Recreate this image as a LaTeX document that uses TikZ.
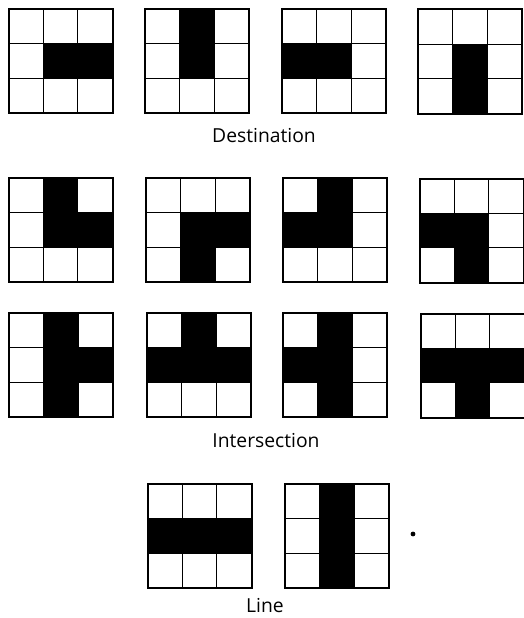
\documentclass[tikz,border=0pt]{standalone}
\usepackage{fontspec}
\setmainfont{Open Sans}
\tikzset{
  outerframe/.style={draw=black, line width=2pt},
  innerline/.style={draw=black, line width=1.3pt},
  blackcell/.style={fill=black},
  caption/.style={font=\fontsize{19.3}{22}\selectfont, inner sep=0pt, anchor=center}
}
\newcommand\cellgrid[3]{%
  \begin{scope}[shift={(#1,-#2)}]
    \foreach \r/\c in {#3} \fill[blackcell] ({\c*34.667},{-\r*34.667}) rectangle ++(34.667,-34.667);
    \draw[innerline] (34.667,0) -- (34.667,-104) (69.333,0) -- (69.333,-104)
                     (0,-34.667) -- (104,-34.667) (0,-69.333) -- (104,-69.333);
    \draw[outerframe] (0,0) rectangle (104,-104);
  \end{scope}}
\begin{document}
\begin{tikzpicture}[x=1pt,y=1pt]
  \useasboundingbox[fill=white] (0,0) rectangle (523,-618);
  % Row 1: Destination
  \cellgrid{8.5}{9}{1/1,1/2}
  \cellgrid{145}{9}{0/1,1/1}
  \cellgrid{282}{9}{1/0,1/1}
  \cellgrid{418}{9.5}{1/1,2/1}
  \node[caption] (dest) at (264,-136) {Destination};
  % Row 2
  \cellgrid{8.5}{178}{0/1,1/1,1/2}
  \cellgrid{146}{178}{1/1,1/2,2/1}
  \cellgrid{283}{178}{0/1,1/0,1/1}
  \cellgrid{419.5}{178.5}{1/0,1/1,2/1}
  % Row 3
  \cellgrid{9}{313}{0/1,1/1,2/1,1/2}
  \cellgrid{147}{313}{0/1,1/0,1/1,1/2}
  \cellgrid{283}{313}{0/1,1/0,1/1,2/1}
  \cellgrid{420.5}{313.5}{1/0,1/1,1/2,2/1}
  \node[caption] (inter) at (266,-441) {Intersection};
  % Row 4: Line
  \cellgrid{147.5}{484}{1/0,1/1,1/2}
  \cellgrid{285}{484}{0/1,1/1,2/1}
  \fill (413,-534) circle (2.4);
  \node[caption] (line) at (265,-606) {Line};
\end{tikzpicture}
\end{document}
